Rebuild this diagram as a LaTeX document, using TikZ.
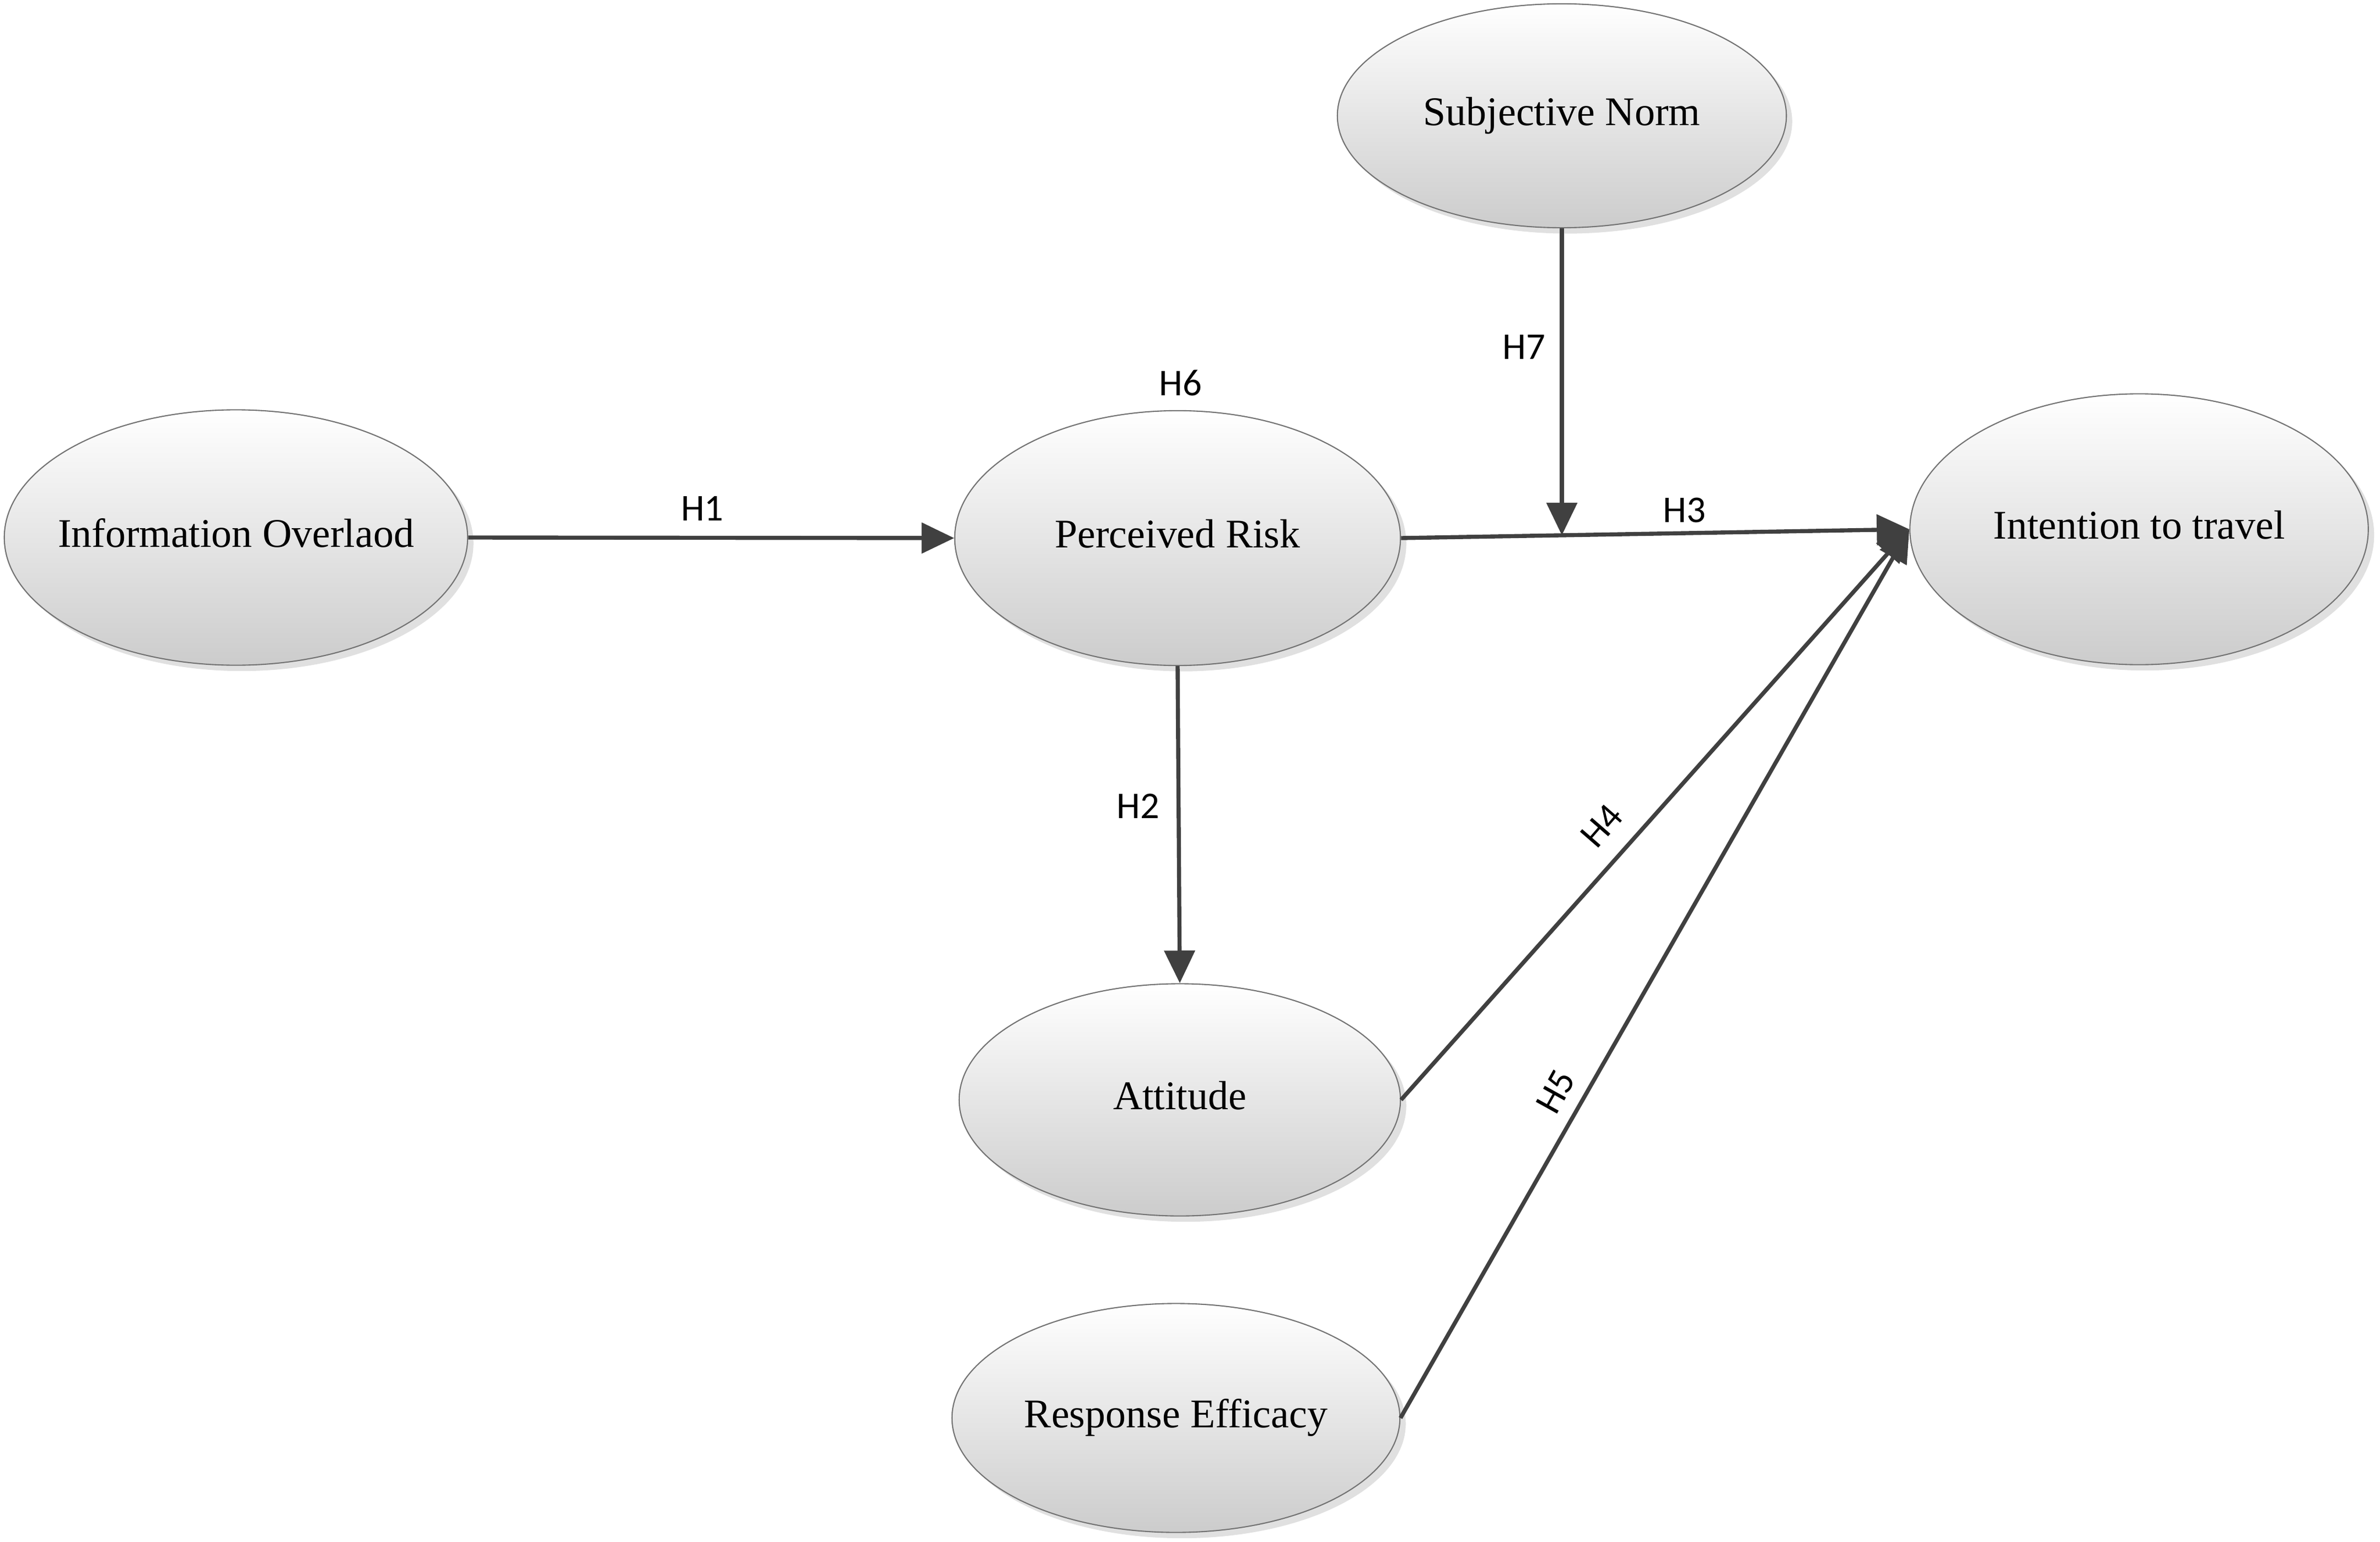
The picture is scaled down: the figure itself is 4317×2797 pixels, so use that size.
\documentclass[tikz,border=0pt]{standalone}
\usepackage{fontspec}
\setmainfont{Liberation Serif}
\newfontfamily\lblfont{Carlito}
\usetikzlibrary{shapes.geometric,arrows.meta,shadows,calc}
\newcommand{\ctext}[1]{\makebox[0pt]{#1}}
\begin{document}
\begin{tikzpicture}[x=0.01cm,y=-0.01cm,
  ell/.style={ellipse, draw=black!55, line width=0.6pt, top color=white, bottom color=black!20,
    inner sep=0pt, font=\fontsize{21}{24}\selectfont, text height=10.2pt, text depth=0pt,
    drop shadow={shadow xshift=3pt, shadow yshift=-3pt, fill=black!12, opacity=1}},
  conn/.style={draw=black!75, line width=2.1pt, -{Triangle[length=16.8pt,width=15.6pt]}},
  hyp/.style={font=\lblfont\fontsize{19.5}{22}\selectfont, inner sep=0pt}
]
\useasboundingbox[fill=white] (0,0) rectangle (4317,2797);

\node[ell, minimum width=8.40cm, minimum height=4.63cm] (io) at (428,975) {\ctext{Information Overlaod}};
\node[ell, minimum width=8.08cm, minimum height=4.62cm] (pr) at (2136,976) {\ctext{Perceived Risk}};
\node[ell, minimum width=8.14cm, minimum height=4.06cm] (sn) at (2833,210) {\ctext{Subjective Norm}};
\node[ell, minimum width=8.31cm, minimum height=4.91cm] (it) at (3880,960) {\ctext{Intention to travel}};
\node[ell, minimum width=8.00cm, minimum height=4.21cm] (at) at (2140,1995) {\ctext{Attitude}};
\node[ell, minimum width=8.12cm, minimum height=4.15cm] (re) at (2133,2572) {\ctext{Response Efficacy}};

\coordinate (mod) at ($(pr.east)!0.32!(it.west)$);

\draw[conn] (io.east) -- (pr.west);
\draw[conn] (pr.south) -- (at.north);
\draw[conn] (pr.east) -- (it.west);
\draw[conn] (at.east) -- (it.west);
\draw[conn] (re.east) -- (it.west);
\draw[conn] (sn.south) -- (sn.south |- mod);

\node[hyp] (h1) at (1274,922) {H1};
\node[hyp] (h2) at (2064,1462) {H2};
\node[hyp] (h3) at (3055,925) {H3};
\node[hyp, rotate=49] (h4) at (2905,1498) {H4};
\node[hyp, rotate=61] (h5) at (2822,1980) {H5};
\node[hyp] (h6) at (2141,695) {H6};
\node[hyp] (h7) at (2764,629) {H7};
\end{tikzpicture}
\end{document}
